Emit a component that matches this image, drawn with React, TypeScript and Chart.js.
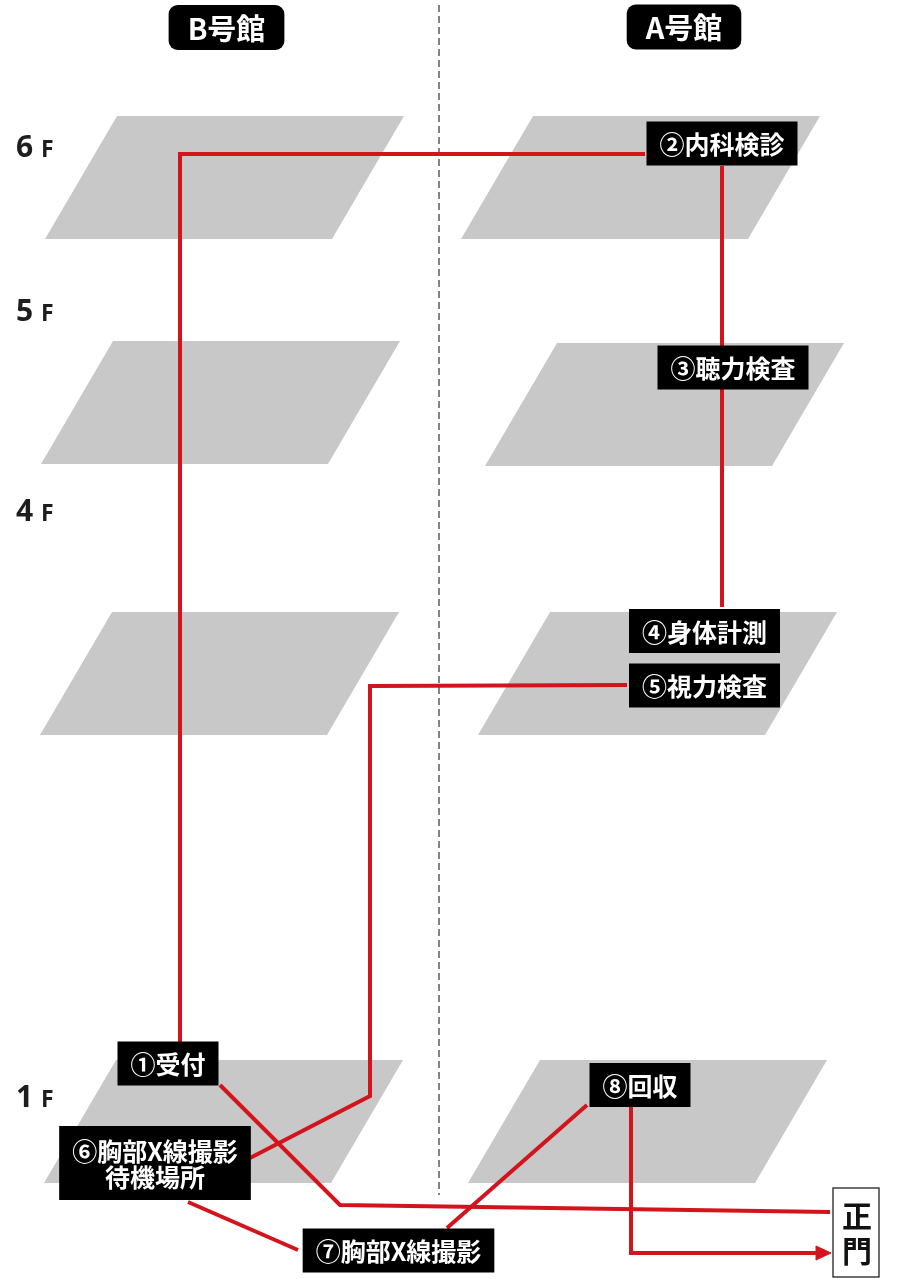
import { useEffect, useRef } from "react";
import { Chart, registerables } from "chart.js";

Chart.register(...registerables);

// ---- data ----
const buildingNames = ["B号館", "A号館"];
const buildingX = [226.5, 684];
const buildingY = [27.5, 27];

const floorNames = ["6", "5", "4", "1"];
const floorBaseY = [157, 321, 521, 1107];

// slab anchors (top-left corner of each floor plate)
const slabBX = [117, 113, 112, 116];
const slabBY = [116, 341, 612, 1060];
const slabAX = [533, 557, 550, 540];
const slabAY = [116, 343, 612, 1060];

const stationNames = [
  ["①受付"],
  ["②内科検診"],
  ["③聴力検査"],
  ["④身体計測"],
  ["⑤視力検査"],
  ["⑥胸部X線撮影", "待機場所"],
  ["⑦胸部X線撮影"],
  ["⑧回収"],
];
const stationX = [168, 722, 733, 704.5, 704.5, 155, 398.5, 640];
const stationY = [1063.5, 143.5, 367.5, 631, 685.5, 1163, 1250.5, 1085];

const gateChars = ["正", "門"];
const gateX = 856;
const gateY = 1232.5;

// routes
const route1X = [180, 180, 645];
const route1Y = [1042, 154, 154];
const route2X = [722, 722];
const route2Y = [166, 607];
const route3X = [627, 370, 370, 250];
const route3Y = [685, 686, 1096, 1158];
const route4X = [188, 298];
const route4Y = [1202, 1250];
const route5X = [447, 587];
const route5Y = [1228, 1105];
const route6X = [220, 340, 830];
const route6Y = [1085, 1205, 1212];
const route7X = [631, 631, 818];
const route7Y = [1107, 1253, 1253];
const arrowX = [816, 831, 816, 816];
const arrowY = [1246, 1253, 1260, 1246];

const dividerX = [439, 439];
const dividerY = [5, 1195];

// ---- styles ----
const RED = "#d3141c";
const SLAB = "#c8c8c8";
const SLAB_W = 287;
const SLAB_H = 123;
const SLAB_SKEW = 72;
const JP = '"Noto Sans CJK JP", "Noto Sans", sans-serif';

const pts = (xs: number[], ys: number[]) => xs.map((x, i) => ({ x, y: ys[i] }));

const slab = (x0: number, y0: number) => {
  const xs = [x0, x0 + SLAB_W, x0 + SLAB_W - SLAB_SKEW, x0 - SLAB_SKEW, x0];
  const ys = [y0, y0, y0 + SLAB_H, y0 + SLAB_H, y0];
  return pts(xs, ys);
};

const labelPlugin = {
  id: "diagramLabels",
  afterDatasetsDraw(chart: any) {
    const ctx: CanvasRenderingContext2D = chart.ctx;
    const sx = chart.scales.x;
    const sy = chart.scales.y;
    const px = (v: number) => sx.getPixelForValue(v);
    const py = (v: number) => sy.getPixelForValue(v);
    ctx.save();

    // building headings
    ctx.font = `bold 29px ${JP}`;
    ctx.textAlign = "center";
    ctx.textBaseline = "middle";
    buildingNames.forEach((name, i) => {
      const w = ctx.measureText(name).width + 38;
      const h = 45;
      const cx = px(buildingX[i]);
      const cy = py(buildingY[i]);
      ctx.fillStyle = "#000";
      ctx.beginPath();
      (ctx as any).roundRect(cx - w / 2, cy - h / 2, w, h, 9);
      ctx.fill();
      ctx.fillStyle = "#fff";
      ctx.fillText(name, cx, cy + 1);
    });

    // floor labels
    ctx.textAlign = "left";
    ctx.textBaseline = "alphabetic";
    ctx.fillStyle = "#1e1e1e";
    floorNames.forEach((f, i) => {
      const y = py(floorBaseY[i]);
      ctx.font = `bold 30px "Noto Sans", sans-serif`;
      ctx.fillText(f, px(16), y);
      ctx.font = `bold 23px "Noto Sans", sans-serif`;
      ctx.fillText("F", px(41), y);
    });

    // stations
    ctx.font = `bold 25px ${JP}`;
    ctx.textAlign = "center";
    ctx.textBaseline = "middle";
    stationNames.forEach((lines, i) => {
      const lineH = 26;
      const w = Math.max(...lines.map((l) => ctx.measureText(l).width)) + 26;
      const h = lines.length === 1 ? 44 : 74;
      const cx = px(stationX[i]);
      const cy = py(stationY[i]);
      ctx.fillStyle = "#000";
      ctx.fillRect(cx - w / 2, cy - h / 2, w, h);
      ctx.fillStyle = "#fff";
      lines.forEach((l, j) => {
        const off = (j - (lines.length - 1) / 2) * lineH;
        ctx.fillText(l, cx, cy + off + 1);
      });
    });

    // main gate
    {
      const cx = px(gateX);
      const cy = py(gateY);
      const w = 46;
      const h = 89;
      ctx.fillStyle = "#fff";
      ctx.fillRect(cx - w / 2, cy - h / 2, w, h);
      ctx.strokeStyle = "#222";
      ctx.lineWidth = 1.3;
      ctx.strokeRect(cx - w / 2, cy - h / 2, w, h);
      ctx.fillStyle = "#111";
      ctx.font = `bold 30px ${JP}`;
      gateChars.forEach((c, j) => {
        ctx.fillText(c, cx + 1, cy + (j - 0.5) * 35 + 1);
      });
    }
    ctx.restore();
  },
};

export default function App() {
  const ref = useRef<HTMLCanvasElement | null>(null);

  useEffect(() => {
    if (!ref.current) return;
    const slabSets = [
      ...slabBX.map((x, i) => slab(x, slabBY[i])),
      ...slabAX.map((x, i) => slab(x, slabAY[i])),
    ].map((data) => ({
      data,
      fill: "shape",
      backgroundColor: SLAB,
      borderColor: SLAB,
      borderWidth: 0,
      pointRadius: 0,
      order: 5,
    }));

    const routes = [
      pts(route1X, route1Y),
      pts(route2X, route2Y),
      pts(route3X, route3Y),
      pts(route4X, route4Y),
      pts(route5X, route5Y),
      pts(route6X, route6Y),
      pts(route7X, route7Y),
    ].map((data) => ({
      data,
      fill: false,
      borderColor: RED,
      borderWidth: 4,
      borderJoinStyle: "miter",
      borderCapStyle: "butt",
      pointRadius: 0,
      order: 1,
    }));

    const chart = new Chart(ref.current, {
      type: "line",
      data: {
        datasets: [
          {
            data: pts(arrowX, arrowY),
            fill: "shape",
            backgroundColor: RED,
            borderColor: RED,
            borderWidth: 1,
            pointRadius: 0,
            order: 0,
          },
          ...routes,
          {
            data: pts(dividerX, dividerY),
            fill: false,
            borderColor: "#333",
            borderWidth: 1.2,
            borderDash: [7, 4],
            pointRadius: 0,
            order: 3,
          },
          ...slabSets,
        ] as any,
      },
      options: {
        animation: false,
        responsive: false,
        events: [],
        layout: { padding: 0 },
        plugins: { legend: { display: false }, tooltip: { enabled: false } },
        scales: {
          x: { type: "linear", min: 0, max: 899, display: false },
          y: { type: "linear", min: 0, max: 1279, reverse: true, display: false },
        },
      } as any,
      plugins: [labelPlugin],
    });
    return () => chart.destroy();
  }, []);

  return (
    <div style={{ position: "absolute", left: 0, top: 0, width: 899, height: 1279, background: "#fff" }}>
      <canvas ref={ref} width={899} height={1279} style={{ display: "block" }} />
    </div>
  );
}
